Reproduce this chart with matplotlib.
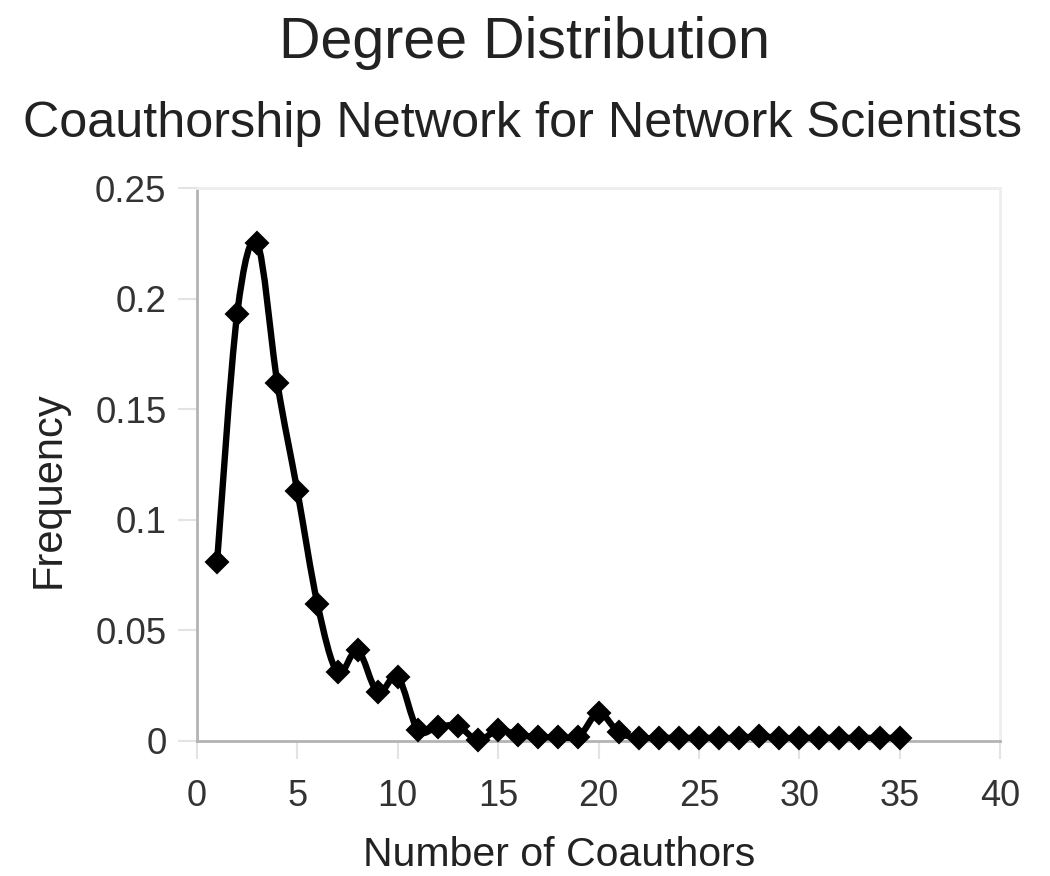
import numpy as np
import matplotlib
matplotlib.use("Agg")
import matplotlib.pyplot as plt
from matplotlib.path import Path
from matplotlib.patches import PathPatch

plt.rcParams['font.family'] = ['Liberation Sans', 'DejaVu Sans']

# Degree distribution of the coauthorship network
coauthors = [1, 2, 3, 4, 5, 6, 7, 8, 9, 10, 11, 12, 13, 14, 15, 16, 17, 18,
             19, 20, 21, 22, 23, 24, 25, 26, 27, 28, 29, 30, 31, 32, 33, 34, 35]
frequency = [0.081, 0.193, 0.225, 0.162, 0.113, 0.062, 0.031, 0.041, 0.022,
             0.029, 0.005, 0.0065, 0.0067, 0.0003, 0.005, 0.0027, 0.0018,
             0.0018, 0.0018, 0.0127, 0.004, 0.0014, 0.0014, 0.0014, 0.0014,
             0.0014, 0.0014, 0.0022, 0.0014, 0.0014, 0.0014, 0.0014, 0.0014,
             0.0014, 0.0014]
x_ticks = [0, 5, 10, 15, 20, 25, 30, 35, 40]
y_ticks = [0, 0.05, 0.1, 0.15, 0.2, 0.25]
y_tick_labels = ['0', '0.05', '0.1', '0.15', '0.2', '0.25']


def smooth_path(xs, ys):
    """Catmull-Rom curve through the points, expressed as cubic Bezier segments."""
    pts = np.column_stack([xs, ys]).astype(float)
    verts = [pts[0]]
    codes = [Path.MOVETO]
    n = len(pts)
    for i in range(n - 1):
        p0 = pts[i - 1] if i > 0 else pts[i]
        p1 = pts[i]
        p2 = pts[i + 1]
        p3 = pts[i + 2] if i + 2 < n else pts[i + 1]
        c1 = p1 + (p2 - p0) / 6.0
        c2 = p2 - (p3 - p1) / 6.0
        verts += [c1, c2, p2]
        codes += [Path.CURVE4] * 3
    return Path(verts, codes)


fig = plt.figure(figsize=(10.5, 8.76), dpi=100)
ax = fig.add_axes([197 / 1050, 1 - 741 / 876, 803 / 1050, 553 / 876])

ax.add_patch(PathPatch(smooth_path(coauthors, frequency), facecolor='none',
                       edgecolor='black', lw=4.6, zorder=3, capstyle='round',
                       joinstyle='round'))
ax.plot(coauthors, frequency, linestyle='none', marker='D', markersize=11.5,
        color='black', markeredgewidth=1.5, zorder=4, clip_on=False)

ax.set_xlim(0, 40)
ax.set_ylim(0, 0.25)
ax.set_xticks(x_ticks)
ax.set_yticks(y_ticks)
ax.set_yticklabels(y_tick_labels)

for side in ('left', 'bottom'):
    ax.spines[side].set_color('#b3b3b3')
    ax.spines[side].set_linewidth(2)
for side in ('top', 'right'):
    ax.spines[side].set_color('#eeeeee')
    ax.spines[side].set_linewidth(2)

ax.tick_params(axis='y', direction='out', length=13.5, width=1.5,
               color='#e3e3e3', labelsize=26.5, labelcolor='#333333', pad=8.5)
ax.tick_params(axis='x', direction='out', length=13, width=1.5,
               color='#e3e3e3', labelsize=26, labelcolor='#333333', pad=14)

ax.set_xlabel('Number of Coauthors', fontsize=29.5, color='#222222', va='baseline')
ax.xaxis.set_label_coords(0.4514, (741 - 866) / 553)
ax.set_ylabel('Frequency', fontsize=30, color='#222222', va='baseline')
ax.yaxis.set_label_coords((60 - 197) / 803, (741 - 490) / 553)

fig.text(0.4995, 1 - 58 / 876, 'Degree Distribution', fontsize=41.3,
         color='#222222', ha='center', va='baseline')
fig.text(0.4975, 1 - 137 / 876, 'Coauthorship Network for Network Scientists',
         fontsize=36.3, color='#222222', ha='center', va='baseline')

fig.savefig('out.png', dpi=100, facecolor='white')
